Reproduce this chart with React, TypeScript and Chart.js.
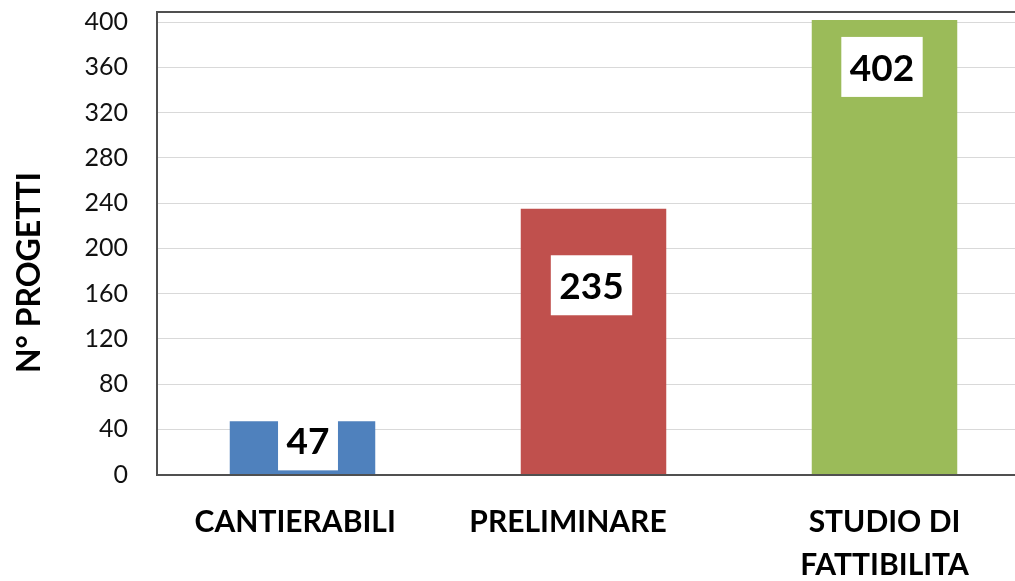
import React, { useEffect, useRef } from 'react';
import { Chart, registerables } from 'chart.js';

Chart.register(...registerables);

const categories: (string | string[])[] = ['CANTIERABILI  ', 'PRELIMINARE       ', ['STUDIO DI', 'FATTIBILITA']];
const values = [47, 235, 402];
const barColors = ['#4F81BD', '#C0504D', '#9BBB59'];
const yTicks = [0, 40, 80, 120, 160, 200, 240, 280, 320, 360, 400];
const yAxisTitle = 'N° PROGETTI';

const FONT = 'Lato, "Open Sans", sans-serif';
const FRAME = '#505050';

const framePlugin = {
  id: 'frameTop',
  afterDraw(chart: any) {
    const { ctx, chartArea } = chart;
    ctx.save();
    ctx.strokeStyle = FRAME;
    ctx.lineWidth = 2;
    ctx.beginPath();
    ctx.moveTo(chartArea.left - 1, chartArea.top);
    ctx.lineTo(chartArea.right, chartArea.top);
    ctx.stroke();
    ctx.restore();
  },
};

const titlePlugin = {
  id: 'yTitle',
  afterDraw(chart: any) {
    const { ctx } = chart;
    ctx.save();
    ctx.translate(30, 272.5);
    ctx.rotate(-Math.PI / 2);
    ctx.font = `bold 32px ${FONT}`;
    ctx.fillStyle = '#000';
    ctx.textAlign = 'center';
    ctx.textBaseline = 'middle';
    ctx.fillText(yAxisTitle, 0, 0);
    ctx.restore();
  },
};

const labelOffX = [5.5, -2, -2.5];
const labelOffY = [21, 78.5, 49];

const valueBoxPlugin = {
  id: 'valueBoxes',
  afterDatasetsDraw(chart: any) {
    const { ctx } = chart;
    const meta = chart.getDatasetMeta(0);
    ctx.save();
    ctx.font = `bold 37px ${FONT}`;
    meta.data.forEach((bar: any, i: number) => {
      const text = String(chart.data.datasets[0].data[i]);
      const w = ctx.measureText(text).width + 17;
      const h = 60;
      const cx = bar.x + labelOffX[i];
      const cy = bar.y + labelOffY[i];
      ctx.fillStyle = '#FFFFFF';
      ctx.fillRect(cx - w / 2, cy - h / 2 - 2, w, h);
      ctx.fillStyle = '#000';
      ctx.textAlign = 'center';
      ctx.textBaseline = 'middle';
      ctx.fillText(text, cx, cy);
    });
    ctx.restore();
  },
};

export default function App() {
  const ref = useRef<HTMLCanvasElement | null>(null);
  useEffect(() => {
    document.body.style.overflow = 'hidden';
    const canvas = ref.current!;
    const chart = new Chart(canvas, {
      type: 'bar',
      data: {
        labels: categories,
        datasets: [
          {
            data: values,
            backgroundColor: barColors,
            borderWidth: 0,
            barPercentage: 0.5,
            categoryPercentage: 1,
          },
        ],
      },
      options: {
        animation: false,
        responsive: false,
        devicePixelRatio: 1,
        layout: { padding: { top: 12, right: 10, left: 0, bottom: 0 } },
        plugins: {
          legend: { display: false },
          tooltip: { enabled: false },
          title: { display: false },
        },
        scales: {
          x: {
            grid: { display: false, drawTicks: false },
            border: { display: true, color: FRAME, width: 2 },
            ticks: {
              color: '#000',
              padding: 26,
              font: { family: FONT, size: 30, weight: 'bold', lineHeight: 1.45 },
              maxRotation: 0,
              autoSkip: false,
            },
            afterFit(scale: any) {
              scale.height = 106.5;
              scale.paddingLeft = 0;
              scale.paddingRight = 0;
            },
          },
          y: {
            min: 0,
            max: 409,
            grid: { color: '#D9D9D9', lineWidth: 1, drawTicks: false },
            border: { display: true, color: FRAME, width: 2 },
            ticks: {
              color: '#111',
              padding: 29,
              font: { family: FONT, size: 25 },
            },
            afterBuildTicks(scale: any) {
              scale.ticks = yTicks.map((v) => ({ value: v }));
            },
            afterFit(scale: any) {
              scale.width = 157;
              scale.paddingTop = 0;
              scale.paddingBottom = 0;
            },
          },
        },
      },
      plugins: [valueBoxPlugin, framePlugin, titlePlugin],
    } as any);
    return () => chart.destroy();
  }, []);
  return (
    <div style={{ position: 'fixed', left: 0, top: 0, width: 1040, height: 581, overflow: 'hidden', background: '#fff' }}>
      <canvas ref={ref} width={1040} height={581} style={{ display: 'block' }} />
    </div>
  );
}
